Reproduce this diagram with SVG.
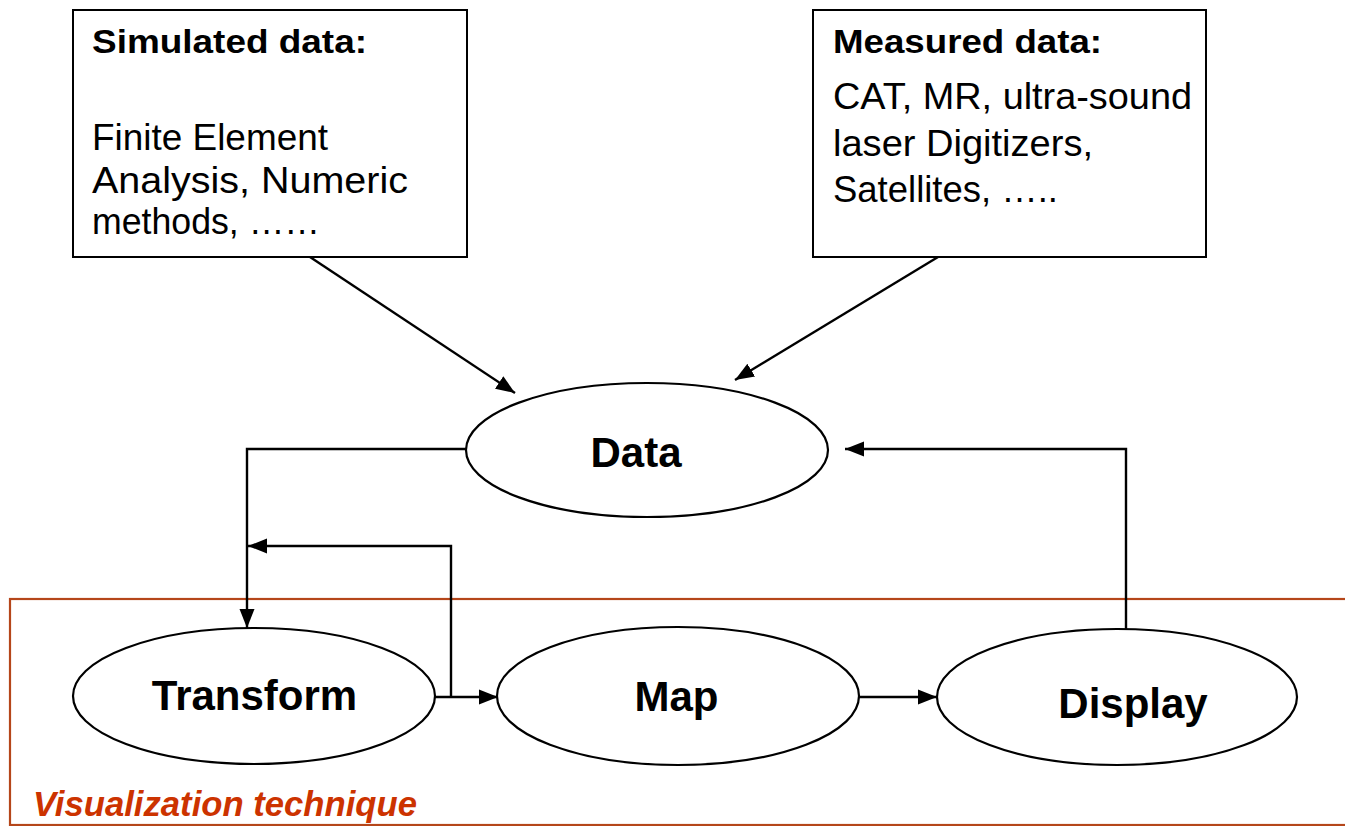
<svg xmlns="http://www.w3.org/2000/svg" width="1345" height="826" viewBox="0 0 1345 826">
  <defs>
    <marker id="arr" markerUnits="userSpaceOnUse" markerWidth="20" markerHeight="18" viewBox="0 0 20 18" refX="19" refY="9" orient="auto">
      <path d="M0,1.5 L19,9 L0,16.5 Z" fill="#000"/>
    </marker>
    <style>
      .box { fill: #fff; stroke: #000; stroke-width: 2; }
      .ell { fill: #fff; stroke: #000; stroke-width: 2.2; }
      .conn { fill: none; stroke: #000; stroke-width: 2.4; }
      .arrow { marker-end: url(#arr); }
      .t { font-family: "Liberation Sans", Arial, sans-serif; fill: #000; }
      .hd { font-size: 33px; font-weight: bold; }
      .bd { font-size: 36px; }
      .nl { font-size: 42px; font-weight: bold; text-anchor: middle; }
      .frame { fill: none; stroke: #B5461A; stroke-width: 2.2; }
      .vt { font-family: "Liberation Sans", Arial, sans-serif; font-size: 35px; font-weight: bold; font-style: italic; fill: #CC3300; }
    </style>
  </defs>

  <g id="vis-frame">
    <rect class="frame" x="10" y="599" width="1345" height="226"/>
    <text class="vt" x="33" y="816" textLength="384" lengthAdjust="spacingAndGlyphs">Visualization technique</text>
  </g>

  <g id="connectors">
    <line class="conn arrow" x1="310" y1="257" x2="515" y2="393"/>
    <line class="conn arrow" x1="938" y1="257" x2="735" y2="380"/>
    <polyline class="conn arrow" points="467,449 247,449 247,628"/>
    <polyline class="conn arrow" points="451,697 451,546 248,546"/>
    <line class="conn arrow" x1="435" y1="697" x2="498" y2="697"/>
    <line class="conn arrow" x1="859" y1="697" x2="937" y2="697"/>
    <polyline class="conn arrow" points="1126,629 1126,449 845,449"/>
  </g>

  <g id="simulated">
    <rect class="box" x="73" y="10" width="394" height="247"/>
    <text class="t hd" x="92" y="53" textLength="275" lengthAdjust="spacingAndGlyphs">Simulated data:</text>
    <text class="t bd" x="92" y="150" textLength="236" lengthAdjust="spacingAndGlyphs">Finite Element</text>
    <text class="t bd" x="92" y="193" textLength="316" lengthAdjust="spacingAndGlyphs">Analysis, Numeric</text>
    <text class="t bd" x="92" y="234" textLength="228" lengthAdjust="spacingAndGlyphs">methods, ……</text>
  </g>

  <g id="measured">
    <rect class="box" x="813" y="10" width="393" height="247"/>
    <text class="t hd" x="833" y="53" textLength="269" lengthAdjust="spacingAndGlyphs">Measured data:</text>
    <text class="t bd" x="833" y="109" textLength="359" lengthAdjust="spacingAndGlyphs">CAT, MR, ultra-sound</text>
    <text class="t bd" x="833" y="156" textLength="260" lengthAdjust="spacingAndGlyphs">laser Digitizers,</text>
    <text class="t bd" x="833" y="202" textLength="225" lengthAdjust="spacingAndGlyphs">Satellites, …..</text>
  </g>

  <g id="data">
    <ellipse class="ell" cx="647" cy="450" rx="181" ry="67"/>
    <text class="t nl" x="636" y="467">Data</text>
  </g>

  <g id="transform">
    <ellipse class="ell" cx="254" cy="696" rx="181" ry="68"/>
    <text class="t nl" x="254.5" y="710">Transform</text>
  </g>

  <g id="map">
    <ellipse class="ell" cx="678" cy="696" rx="181" ry="69"/>
    <text class="t nl" x="676.5" y="711">Map</text>
  </g>

  <g id="display">
    <ellipse class="ell" cx="1117" cy="697" rx="180" ry="68"/>
    <text class="t nl" x="1133" y="718">Display</text>
  </g>
</svg>
